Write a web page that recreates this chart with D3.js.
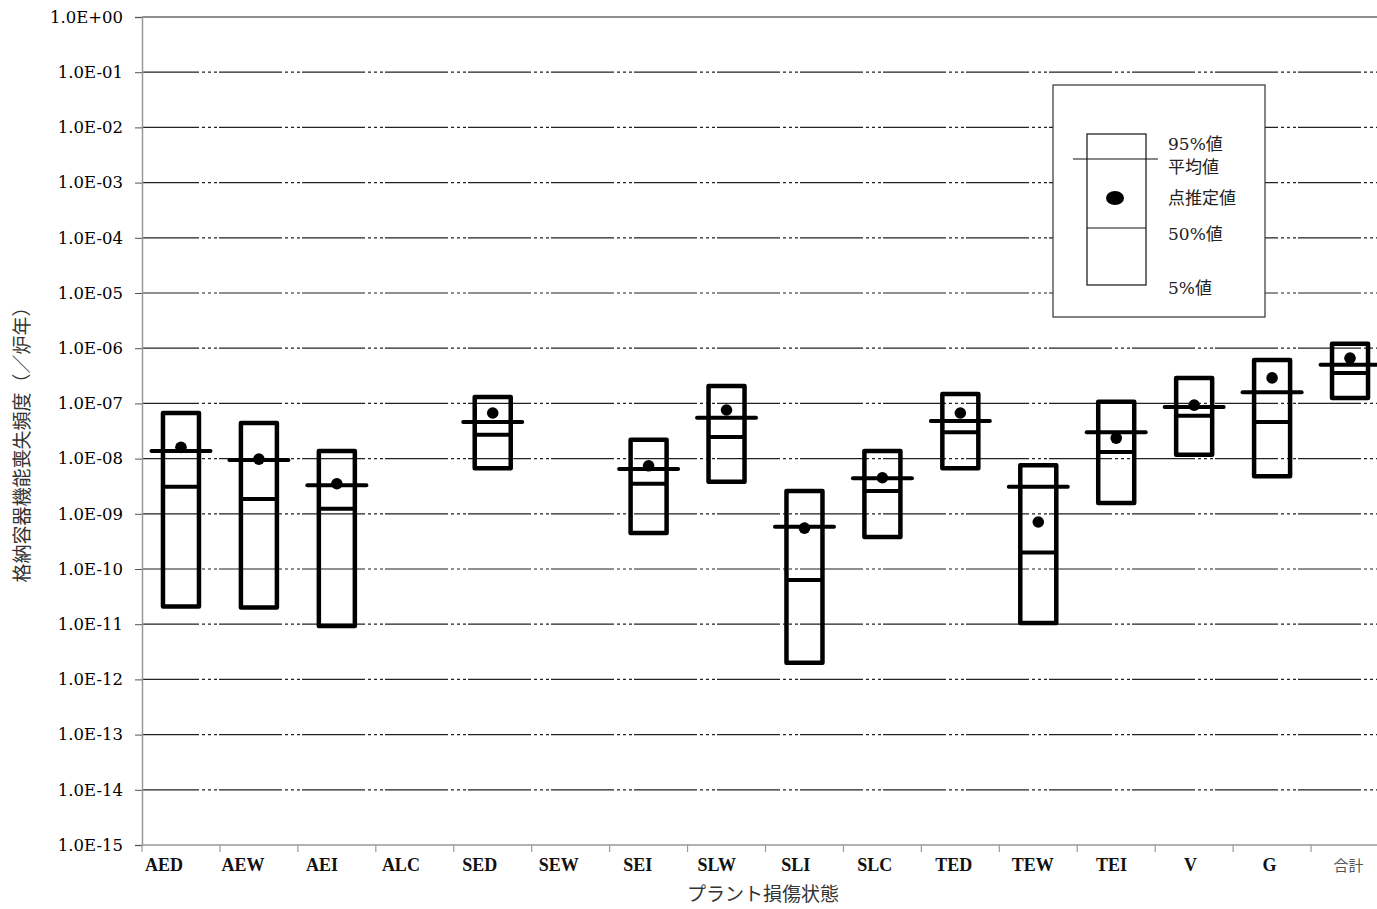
<!DOCTYPE html>
<html>
<head>
<meta charset="utf-8">
<script src="https://cdn.jsdelivr.net/npm/d3@7"></script>
<style>
  html, body { margin: 0; padding: 0; background: #fff; }
  svg { display: block; }
</style>
</head>
<body>
<svg id="chart" width="1377" height="909"></svg>
<script>
// Plant damage states (x categories)
const categories = ["AED","AEW","AEI","ALC","SED","SEW","SEI","SLW","SLI","SLC","TED","TEW","TEI","V","G","合計"];
// Containment failure frequency (/reactor-year); null = not evaluated
const p95   = [6.7e-8, 4.4e-8, 1.38e-8, null, 1.31e-7, null, 2.2e-8, 2.07e-7, 2.6e-9, 1.38e-8, 1.48e-7, 7.6e-9, 1.07e-7, 2.9e-7, 6.1e-7, 1.2e-6];
const mean  = [1.38e-8, 9.4e-9, 3.3e-9, null, 4.6e-8, null, 6.5e-9, 5.5e-8, 5.8e-10, 4.4e-9, 4.8e-8, 3.1e-9, 3.0e-8, 8.6e-8, 1.6e-7, 5.0e-7];
const point = [1.6e-8, 9.8e-9, 3.5e-9, null, 6.7e-8, null, 7.4e-9, 7.6e-8, 5.5e-10, 4.5e-9, 6.7e-8, 7.1e-10, 2.35e-8, 9.3e-8, 2.9e-7, 6.6e-7];
const p50   = [3.1e-9, 1.85e-9, 1.23e-9, null, 2.7e-8, null, 3.5e-9, 2.46e-8, 6.3e-11, 2.6e-9, 3.0e-8, 2.0e-10, 1.32e-8, 6.0e-8, 4.6e-8, 3.55e-7];
const p5    = [2.1e-11, 2.0e-11, 9.3e-12, null, 6.7e-9, null, 4.5e-10, 3.8e-9, 2.0e-12, 3.8e-10, 6.7e-9, 1.05e-11, 1.57e-9, 1.17e-8, 4.8e-9, 1.25e-7];
// Y axis tick values and labels
const yTicks = [1e0,1e-1,1e-2,1e-3,1e-4,1e-5,1e-6,1e-7,1e-8,1e-9,1e-10,1e-11,1e-12,1e-13,1e-14,1e-15];
const yTickLabels = ["1.0E+00","1.0E-01","1.0E-02","1.0E-03","1.0E-04","1.0E-05","1.0E-06","1.0E-07","1.0E-08","1.0E-09","1.0E-10","1.0E-11","1.0E-12","1.0E-13","1.0E-14","1.0E-15"];
// Legend entries
const legendLabels = ["95%値","平均値","点推定値","50%値","5%値"];

const svg = d3.select("#chart");
const plotLeft = 142, plotRight = 1389, plotTop = 17, plotBottom = 845;

const x = d3.scaleBand().domain(categories).range([plotLeft, plotRight]);
const xLabel = d3.scaleBand().domain(categories).range([124.5, 1388]);
const y = d3.scaleLog().domain([1e-15, 1]).range([plotBottom, plotTop]);

const serif = "'DejaVu Serif', 'Liberation Serif', serif";
const boldSerif = "'Liberation Serif', 'DejaVu Serif', serif";
const jp = "'Noto Sans CJK JP', 'Noto Sans', sans-serif";

// Horizontal grid lines
const grid = svg.append("g");
grid.selectAll("line").data(yTicks.slice(0, -1)).join("line")
  .attr("x1", plotLeft).attr("x2", 1377)
  .attr("y1", d => y(d)).attr("y2", d => y(d))
  .attr("stroke", "#222").attr("stroke-width", 1.2)
  .attr("stroke-dasharray", (d, i) => i === 0 ? null : "63,3,3,3,3,3,3,2")
  .attr("stroke-dashoffset", 6);

// Y axis
const yAxis = d3.axisLeft(y).tickValues(yTicks)
  .tickFormat((d, i) => yTickLabels[i]).tickSize(7).tickPadding(12);
const gy = svg.append("g").attr("transform", `translate(${plotLeft},0)`).call(yAxis);
gy.select(".domain").attr("stroke", "#999").attr("stroke-width", 1.5);
gy.selectAll(".tick line").attr("stroke", "#555");
gy.selectAll(".tick text").attr("font-family", serif).attr("font-size", 16.5).attr("fill", "#000");

// X axis: ticks at category boundaries
const gx = svg.append("g");
gx.append("line").attr("x1", plotLeft).attr("x2", 1377).attr("y1", plotBottom).attr("y2", plotBottom)
  .attr("stroke", "#999").attr("stroke-width", 1.5);
gx.selectAll("line.tk").data(categories).join("line").attr("class", "tk")
  .attr("x1", d => x(d)).attr("x2", d => x(d))
  .attr("y1", plotBottom).attr("y2", plotBottom + 7)
  .attr("stroke", "#999").attr("stroke-width", 1.2);
gx.selectAll("text").data(categories).join("text")
  .attr("x", d => xLabel(d) + xLabel.bandwidth() / 2)
  .attr("y", 871)
  .attr("text-anchor", "middle")
  .attr("font-family", d => d === "合計" ? jp : boldSerif)
  .attr("font-weight", d => d === "合計" ? "normal" : "bold")
  .attr("font-size", d => d === "合計" ? 15 : 18)
  .attr("fill", d => d === "合計" ? "#555" : "#111")
  .text(d => d);

// Axis titles
svg.append("text")
  .attr("transform", `translate(29,440) rotate(-90)`)
  .attr("text-anchor", "middle")
  .attr("font-family", jp).attr("font-size", 19).attr("fill", "#333")
  .text("格納容器機能喪失頻度（／炉年）");
svg.append("text")
  .attr("x", 763).attr("y", 901)
  .attr("text-anchor", "middle")
  .attr("font-family", jp).attr("font-size", 19).attr("fill", "#333")
  .text("プラント損傷状態");

// Uncertainty boxes
const rows = categories.map((c, i) => ({ c, p95: p95[i], mean: mean[i], point: point[i], p50: p50[i], p5: p5[i] }))
  .filter(d => d.p95 != null);
const boxW = 36, meanW = 59;
const marks = svg.append("g");
const g = marks.selectAll("g").data(rows).join("g")
  .attr("transform", d => `translate(${x(d.c) + x.bandwidth() / 2},0)`);
g.append("rect")
  .attr("x", -boxW / 2).attr("width", boxW)
  .attr("y", d => y(d.p95)).attr("height", d => y(d.p5) - y(d.p95))
  .attr("fill", "none").attr("stroke", "#000").attr("stroke-width", 4.5)
  .attr("stroke-linejoin", "round");
g.append("line")
  .attr("x1", -boxW / 2).attr("x2", boxW / 2)
  .attr("y1", d => y(d.p50)).attr("y2", d => y(d.p50))
  .attr("stroke", "#000").attr("stroke-width", 4);
g.append("line")
  .attr("x1", -meanW / 2).attr("x2", meanW / 2)
  .attr("y1", d => y(d.mean)).attr("y2", d => y(d.mean))
  .attr("stroke", "#000").attr("stroke-width", 4).attr("stroke-linecap", "round");
g.append("circle")
  .attr("cx", 0).attr("cy", d => y(d.point)).attr("r", 5.8)
  .attr("fill", "#000");

// Legend
const lg = svg.append("g");
lg.append("rect").attr("x", 1053).attr("y", 85).attr("width", 212).attr("height", 232)
  .attr("fill", "#fff").attr("stroke", "#333").attr("stroke-width", 1.2);
lg.append("rect").attr("x", 1087).attr("y", 134).attr("width", 59).attr("height", 151)
  .attr("fill", "none").attr("stroke", "#111").attr("stroke-width", 1.2);
lg.append("line").attr("x1", 1073).attr("x2", 1158).attr("y1", 159).attr("y2", 159)
  .attr("stroke", "#111").attr("stroke-width", 1.2);
lg.append("line").attr("x1", 1087).attr("x2", 1146).attr("y1", 228).attr("y2", 228)
  .attr("stroke", "#111").attr("stroke-width", 1.2);
lg.append("ellipse").attr("cx", 1115).attr("cy", 198).attr("rx", 9).attr("ry", 7).attr("fill", "#000");
const legendY = [144, 167, 198, 234, 288];
lg.selectAll("text").data(legendLabels).join("text")
  .attr("x", 1168).attr("y", (d, i) => legendY[i]).attr("dy", "0.35em")
  .attr("font-family", "'DejaVu Serif', 'Noto Sans CJK JP', serif").attr("font-size", 17)
  .attr("fill", "#222")
  .text(d => d);
</script>
</body>
</html>
